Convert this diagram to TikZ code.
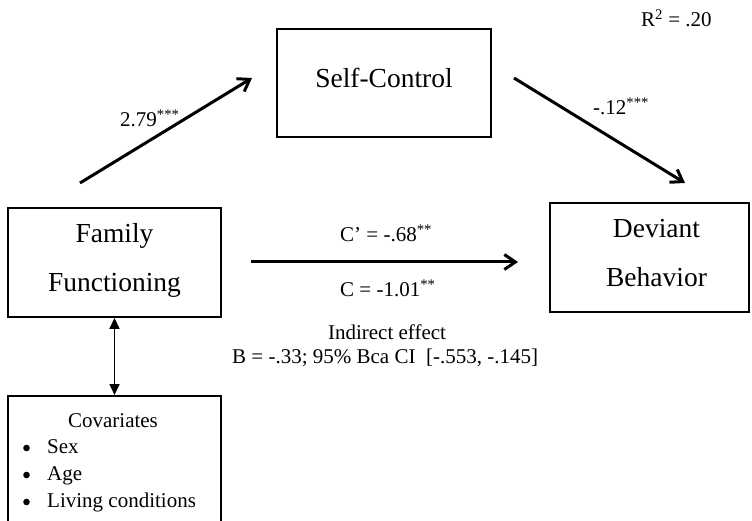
\documentclass[tikz,border=0pt]{standalone}
\usepackage{fontspec}
\setmainfont{Liberation Serif}
\usetikzlibrary{arrows.meta}

\tikzset{
  varbox/.style={draw, line width=1.9pt, inner sep=0pt, align=center,
    text depth=10pt, font=\fontsize{27.5}{49}\selectfont},
  effect/.style={line width=3pt, -{Straight Barb[length=11pt,width=15pt]}},
  covar/.style={line width=1.7pt, {Triangle[length=11pt,width=10pt]}-{Triangle[length=11pt,width=10pt]}},
  lbl/.style={inner sep=0pt, font=\fontsize{21}{25}\selectfont},
  dot/.style={xshift=-20.5pt, yshift=5pt},
}

\begin{document}
\begin{tikzpicture}[x=1pt,y=-1pt]
      \useasboundingbox (0,0) rectangle (752,521);
      % variables
      \node[varbox, minimum width=214pt, minimum height=108pt] (sc) at (384,83) {Self-Control};
      \node[varbox, minimum width=213pt, minimum height=109pt] (ff) at (114.5,262.5) {Family\\Functioning};
      \node[varbox, minimum width=199pt, minimum height=109pt] (db) at (649.5,257.5)
        {\hspace*{14pt}Deviant\\\hspace*{14pt}Behavior};
      \node[draw, line width=1.9pt, minimum width=213pt, minimum height=160pt, anchor=north] (cov) at (114.5,395) {};
      % arrow ends
      \coordinate (a) at (80,183);
      \coordinate (a') at (252,78);
      \coordinate (b) at (514,78);
      \coordinate (b') at (685,183);
      \coordinate (c) at (251,262);
      \coordinate (c') at (518,262);
      \begin{scope}
        \draw[effect] (a) to (a');
        \draw[effect] (b) to (b');
        \draw[effect] (c) to (c');
        \draw[covar] (ff.south) to (cov.north);
      \end{scope}
      % labels
      \node[lbl, anchor=base west] (r2) at (641,27) {R\textsuperscript{2} = .20};
      \node[lbl, anchor=base west] (la) at (120,127) {2.79\textsuperscript{***}};
      \node[lbl, anchor=base west] (lb) at (593,115) {-.12\textsuperscript{***}};
      \node[lbl, anchor=base west] (lc') at (340,242) {C’ = -.68\textsuperscript{**}};
      \node[lbl, anchor=base west] (lc) at (340,297) {C = -1.01\textsuperscript{**}};
      \node[lbl, anchor=base] (ind) at (387,339) {Indirect effect};
      \node[lbl, anchor=base west] (ci) at (232,363) {B = -.33; 95\% Bca CI~\ [-.553, -.145]};
      % covariates
      \node[lbl, anchor=base] (covt) at (113,427) {Covariates};
      \node[lbl, anchor=base west] (sex) at (47,453) {Sex};
      \node[lbl, anchor=base west] (age) at (47,480) {Age};
      \node[lbl, anchor=base west] (liv) at (47,507) {Living conditions};
      \fill ([dot]sex.base west) circle (3.3pt);
      \fill ([dot]age.base west) circle (3.3pt);
      \fill ([dot]liv.base west) circle (3.3pt);
    \end{tikzpicture}
\end{document}
